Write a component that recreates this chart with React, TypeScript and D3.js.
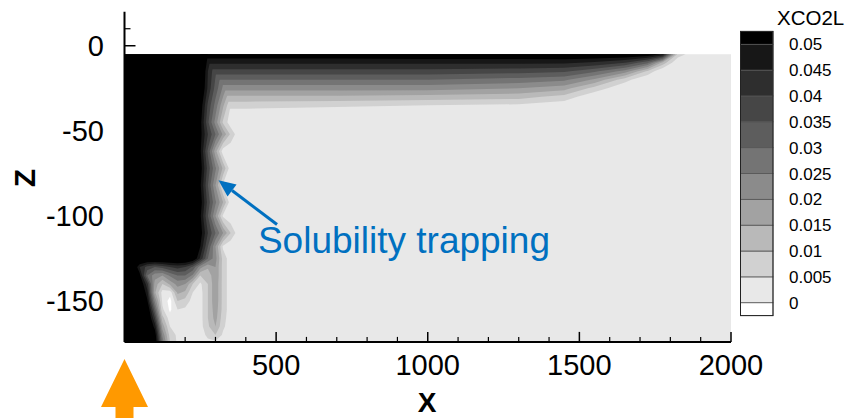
import React, { useMemo } from "react";
import * as d3 from "d3";

// ---- legend levels (XCO2L) ----
const levels = [0, 0.005, 0.01, 0.015, 0.02, 0.025, 0.03, 0.035, 0.04, 0.045, 0.05];
const levelLabels = ["0", "0.005", "0.01", "0.015", "0.02", "0.025", "0.03", "0.035", "0.04", "0.045", "0.05"];

// ---- axes ----
const xMajorTicks = [500, 1000, 1500, 2000];
const zMajorTicks = [0, -50, -100, -150];
const xDomain = [0, 2000];
const zDomain = [20, -174];

// ---- dissolved CO2 layer under the caprock (values x 1000) ----
const topX = [250, 400, 700, 1000, 1300, 1450, 1550, 1650, 1725, 1775, 1825, 1875, 2000];
const topZ = [-5, -10, -15, -20, -25, -30, -35, -40];
const topVals = [
  [54, 54, 54, 55, 55, 56, 56, 56, 55, 49, 8, 2, 0],
  [46, 46, 46, 46, 46, 46, 44, 40, 31, 13, 0, 0, 0],
  [38, 38, 38, 38, 37, 36, 31, 23, 9, 0, 0, 0, 0],
  [30, 30, 30, 30, 28, 26, 19, 7, 0, 0, 0, 0, 0],
  [22, 22, 22, 22, 20, 17, 8, 1, 0, 0, 0, 0, 0],
  [14, 14, 14, 13, 12, 8, 1, 0, 0, 0, 0, 0, 0],
  [7, 7, 6, 5, 4, 2, 0, 0, 0, 0, 0, 0, 0],
  [2, 2, 1, 0, 0, 0, 0, 0, 0, 0, 0, 0, 0],
];

// ---- plume near the injection well (values x 1000) ----
const plumeX = [0, 25, 50, 75, 100, 125, 150, 175, 200, 225, 250, 275, 300, 325, 350, 375, 400];
const plumeZ = [-5, -15, -25, -35, -45, -52, -62, -72, -82, -92, -100, -110, -118, -125, -130, -135, -140, -145, -150, -155, -160, -165, -170, -174];
const plumeVals = [
  [60, 60, 60, 60, 60, 60, 60, 60, 60, 60, 60, 50, 40, 30, 20, 10, 2],
  [60, 60, 60, 60, 60, 60, 60, 60, 60, 60, 60, 45, 36, 28, 18, 8, 2],
  [60, 60, 60, 60, 60, 60, 60, 60, 60, 60, 58, 44, 33, 24, 14, 6, 2],
  [60, 60, 60, 60, 60, 60, 60, 60, 60, 60, 54, 39, 28, 16, 5, 2, 1],
  [60, 60, 60, 60, 60, 60, 60, 60, 60, 60, 52, 36, 23, 9, 2, 1, 1],
  [60, 60, 60, 60, 60, 60, 60, 60, 60, 60, 52, 40, 30, 19, 9, 2, 1],
  [60, 60, 60, 60, 60, 60, 60, 60, 60, 60, 51, 34, 17, 2, 1, 1, 1],
  [60, 60, 60, 60, 60, 60, 60, 60, 60, 60, 53, 38, 26, 14, 2, 1, 1],
  [60, 60, 60, 60, 60, 60, 60, 60, 60, 60, 51, 35, 20, 4, 1, 1, 1],
  [60, 60, 60, 60, 60, 60, 60, 60, 60, 60, 53, 38, 26, 15, 2, 1, 1],
  [60, 60, 60, 60, 60, 60, 60, 60, 60, 60, 51, 35, 20, 4, 1, 1, 1],
  [60, 60, 60, 60, 60, 60, 60, 60, 60, 60, 53, 40, 30, 20, 10, 2, 1],
  [60, 60, 60, 60, 60, 60, 60, 60, 60, 60, 50, 35, 20, 4, 1, 1, 1],
  [60, 60, 60, 60, 60, 60, 60, 60, 60, 57, 44, 30, 22, 8, 2, 1, 1],
  [60, 60, 45, 38, 35, 37, 40, 42, 40, 34, 22, 16, 20, 8, 2, 1, 1],
  [60, 60, 52, 30, 22, 20, 26, 30, 30, 24, 10, 11, 20, 8, 2, 1, 1],
  [60, 60, 57, 42, 18, 10, 16, 22, 20, 10, 4, 10, 19, 8, 2, 1, 1],
  [60, 60, 60, 47, 16, 3, 2, 16, 14, 5, 3, 10, 19, 8, 2, 1, 1],
  [60, 60, 60, 51, 24, 4, -2, 10, 8, 3, 3, 10, 19, 8, 2, 1, 1],
  [60, 60, 60, 57, 32, 6, -1, 5, 4, 3, 3, 10, 18, 8, 2, 1, 1],
  [60, 60, 60, 60, 40, 12, 2, 3, 3, 3, 3, 10, 17, 7, 2, 1, 1],
  [60, 60, 60, 60, 48, 18, 5, 3, 3, 3, 3, 9, 15, 6, 2, 1, 1],
  [60, 60, 60, 60, 54, 24, 8, 4, 3, 3, 3, 6, 10, 4, 2, 1, 1],
  [60, 60, 60, 60, 56, 28, 10, 4, 3, 3, 3, 4, 4, 3, 2, 1, 1],
];

// ---- annotation (data units) ----
const noteText = "Solubility trapping";
const noteTip = [310, -79];
const noteTail = [503, -105];
const noteTextPos = [440, -121.5];

const W = 848;
const H = 418;
const FONT = "'Liberation Sans', Arial, Helvetica, sans-serif";

const x = d3.scaleLinear().domain(xDomain).range([124.5, 731]);
const y = d3.scaleLinear().domain(zDomain).range([11.7, 341.9]);
const legendY = d3.scaleLinear().domain([0, 0.05]).range([302.7, 44.3]);

function bandColor(j: number) {
  // j = -1 (<0) ... 10 (>=0.05)
  const g = Math.max(0, Math.round(255 - (j + 1) * 23.18));
  return d3.rgb(g, g, g).formatHex();
}

type Layer = { t: number; d: string };

function contourPatch(xs: number[], zs: number[], vals: number[][], thresholds: number[], negate = false): Layer[] {
  const n = xs.length;
  const m = zs.length;
  const flat = vals.flat().map((v) => (negate ? -v : v) / 1000);
  const xi = d3.scaleLinear().domain(d3.range(n)).range(xs);
  const zi = d3.scaleLinear().domain(d3.range(m)).range(zs);
  const proj = d3.geoTransform({
    point(gx: number, gy: number) {
      const i = Math.max(0, Math.min(n - 1, gx - 0.5));
      const k = Math.max(0, Math.min(m - 1, gy - 0.5));
      (this as any).stream.point(x(xi(i)), y(zi(k)));
    },
  });
  const path = d3.geoPath(proj);
  return d3
    .contours()
    .size([n, m])
    .thresholds(thresholds)(flat)
    .map((c) => ({ t: c.value, d: path(c as any) || "" }));
}

export default function App() {
  const { bands, negative } = useMemo(() => {
    const th = levels.slice(1);
    const top = contourPatch(topX, topZ, topVals, th);
    const plume = contourPatch(plumeX, plumeZ, plumeVals, th);
    const out: { key: string; d: string; fill: string }[] = [];
    th.forEach((t, idx) => {
      const j = idx + 1;
      [top, plume].forEach((p, pi) => {
        const c = p.find((q) => Math.abs(q.t - t) < 1e-12);
        if (c && c.d) out.push({ key: `b${j}-${pi}`, d: c.d, fill: bandColor(j) });
      });
    });
    const neg = contourPatch(plumeX, plumeZ, plumeVals, [1e-9], true);
    return { bands: out, negative: neg.map((n) => n.d) };
  }, []);

  const x0 = x(0);
  const x1 = x(2000);
  const yTop = y(-5);
  const yBot = y(-174);

  const xMinor = d3.range(100, 2000, 100).filter((v) => v % 500 !== 0);
  const zMinor = d3.range(-170, 20, 10).filter((v) => v % 50 !== 0);

  // legend boxes
  const legendBoxes: { y0: number; y1: number; fill: string }[] = [];
  for (let j = -1; j <= 10; j++) {
    const lo = j === -1 ? -0.0025 : levels[j];
    const hi = j === 10 ? 0.0525 : levels[j + 1];
    legendBoxes.push({ y0: legendY(hi), y1: legendY(lo), fill: bandColor(j) });
  }
  const lgX = 740.5;
  const lgW = 32.5;

  // annotation arrow
  const tip = [x(noteTip[0]), y(noteTip[1])];
  const tail = [x(noteTail[0]), y(noteTail[1])];
  const ang = Math.atan2(tip[1] - tail[1], tip[0] - tail[0]);
  const hl = 17;
  const hw = 7.5;
  const bx = tip[0] - hl * Math.cos(ang);
  const by = tip[1] - hl * Math.sin(ang);
  const head = [
    [tip[0], tip[1]],
    [bx + hw * Math.sin(ang), by - hw * Math.cos(ang)],
    [bx - hw * Math.sin(ang), by + hw * Math.cos(ang)],
  ];

  // orange injection arrow at X = 0
  const ax = x(0);
  const orange = [
    [ax, 359],
    [ax + 23.5, 407],
    [ax + 9, 407],
    [ax + 9, 420],
    [ax - 9, 420],
    [ax - 9, 407],
    [ax - 23.5, 407],
  ];

  return (
    <svg
      width={W}
      height={H}
      viewBox={`0 0 ${W} ${H}`}
      style={{ position: "absolute", left: 0, top: 0, background: "#fff" }}
      fontFamily={FONT}
    >
      <rect x={0} y={0} width={W} height={H} fill="#fff" />
      {/* field */}
      <rect x={x0} y={yTop} width={x1 - x0} height={yBot - yTop} fill={bandColor(0)} />
      {negative.map((d, i) => (
        <path key={`n${i}`} d={d} fill={bandColor(-1)} />
      ))}
      {bands.map((b) => (
        <path key={b.key} d={b.d} fill={b.fill} />
      ))}

      {/* axes */}
      <line x1={x0} x2={x0} y1={y(20)} y2={yBot} stroke="#000" strokeWidth={2} />
      <line x1={x0} x2={x1} y1={yBot} y2={yBot} stroke="#000" strokeWidth={2} />
      {xMajorTicks.map((v) => (
        <g key={`xt${v}`}>
          <line x1={x(v)} x2={x(v)} y1={yBot} y2={yBot - 10} stroke="#000" strokeWidth={1.5} />
          <text x={x(v)} y={375} fontSize={29} textAnchor="middle" fill="#000">
            {v}
          </text>
        </g>
      ))}
      {xMinor.map((v) => (
        <line key={`xm${v}`} x1={x(v)} x2={x(v)} y1={yBot} y2={yBot - 5} stroke="#000" strokeWidth={1.2} />
      ))}
      {zMajorTicks.map((v) => (
        <g key={`zt${v}`}>
          <line x1={x0} x2={x0 + 11} y1={y(v)} y2={y(v)} stroke="#000" strokeWidth={1.5} />
          <text x={104} y={y(v)} dy="0.36em" fontSize={29} textAnchor="end" fill="#000">
            {v}
          </text>
        </g>
      ))}
      {zMinor.map((v) => (
        <line key={`zm${v}`} x1={x0} x2={x0 + 6} y1={y(v)} y2={y(v)} stroke="#000" strokeWidth={1.2} />
      ))}
      <text x={427} y={412} fontSize={28} fontWeight="bold" textAnchor="middle">
        X
      </text>
      <text
        transform={`translate(24,178) rotate(-90)`}
        fontSize={30}
        fontWeight="bold"
        textAnchor="middle"
        dy="0.36em"
      >
        Z
      </text>

      {/* legend */}
      {legendBoxes.map((b, i) => (
        <rect key={`lg${i}`} x={lgX} y={b.y0} width={lgW} height={b.y1 - b.y0} fill={b.fill} stroke="#555" strokeWidth={0.8} />
      ))}
      <rect
        x={lgX}
        y={legendBoxes[legendBoxes.length - 1].y0}
        width={lgW}
        height={legendBoxes[0].y1 - legendBoxes[legendBoxes.length - 1].y0}
        fill="none"
        stroke="#222"
        strokeWidth={1}
      />
      {levels.map((v, i) => (
        <text key={`ll${i}`} x={789} y={legendY(v)} dy="0.36em" fontSize={17} fill="#000">
          {levelLabels[i]}
        </text>
      ))}
      <text x={777} y={25} fontSize={20.5} fill="#000">
        XCO2L
      </text>

      {/* annotation */}
      <line x1={tail[0]} y1={tail[1]} x2={bx} y2={by} stroke="#0070C0" strokeWidth={3} />
      <polygon points={head.map((p) => p.join(",")).join(" ")} fill="#0070C0" />
      <text x={x(noteTextPos[0])} y={y(noteTextPos[1])} fontSize={37} fill="#0070C0">
        {noteText}
      </text>

      {/* injection arrow */}
      <polygon points={orange.map((p) => p.join(",")).join(" ")} fill="#FF9900" />
    </svg>
  );
}
